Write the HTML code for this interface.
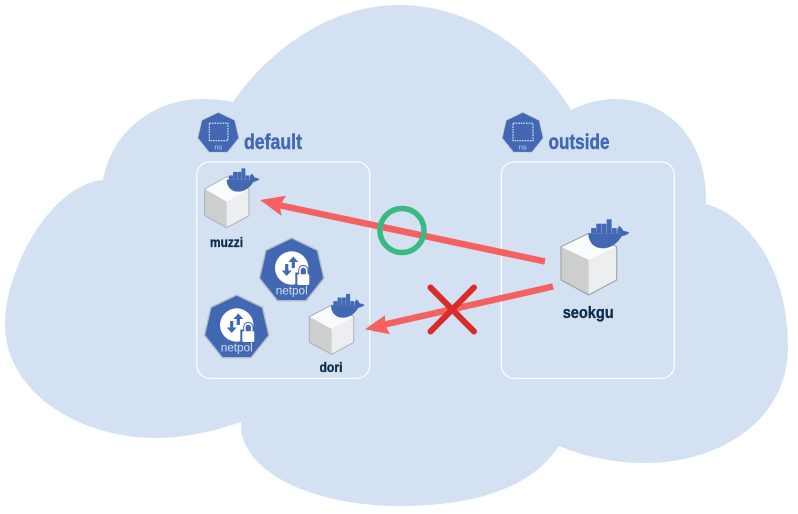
<!DOCTYPE html>
<html>
<head>
<meta charset="utf-8">
<style>
html,body{margin:0;padding:0;background:#fff}
svg{display:block}
.h{font-family:"Liberation Sans Narrow","Liberation Sans",sans-serif;font-weight:700;font-size:21px;fill:#4368b3;stroke:#4368b3;stroke-width:.45}
.l{font-family:"Liberation Sans Narrow","Liberation Sans",sans-serif;font-weight:700;fill:#0d2b4a;stroke:#0d2b4a;stroke-width:.35}
.np{font-family:"Liberation Sans",sans-serif;font-size:11.5px;fill:#d0dcf2;text-anchor:middle}
.ns{font-family:"Liberation Sans",sans-serif;font-size:7.5px;fill:#c8d6ee;text-anchor:middle}
</style>
</head>
<body>
<svg width="798" height="514" viewBox="0 0 798 514" xmlns="http://www.w3.org/2000/svg">
<defs>
  <g id="whale">
    <path fill="#4368b3" d="M0,0 L29,0 C28.5,-3 29.5,-6 31,-7.3 C33,-6 34.5,-4 35,-2.3 C37,-2.5 39,-1.8 41,-0.6 C39,1.5 36,2.5 33.5,2.8 C29,10 23,15 14,15 C5,15 0,8 0,0 Z"/>
    <g fill="#4368b3">
      <rect x="2.8" y="-5.2" width="5" height="5.2"/>
      <rect x="8" y="-5.2" width="4.9" height="5.2"/>
      <rect x="13.2" y="-5.2" width="4.9" height="5.2"/>
      <rect x="18.4" y="-5.2" width="4.9" height="5.2"/>
      <rect x="23.6" y="-5.2" width="4.8" height="5.2"/>
      <rect x="8" y="-9.6" width="4.9" height="4.6"/>
      <rect x="13.2" y="-9.6" width="4.9" height="4.6"/>
      <rect x="18.4" y="-9.6" width="4.9" height="4.6"/>
      <rect x="18.4" y="-14" width="4.9" height="4.6"/>
    </g>
  </g>
  <g id="netpol">
    <polygon points="0,-33 25.8,-20.6 32.2,7.3 14.3,29.7 -14.3,29.7 -32.2,7.3 -25.8,-20.6" fill="#4368b3" stroke="#b4bcc8" stroke-width="1.4" stroke-linejoin="round"/>
    <circle cx="0" cy="-3" r="16.7" fill="#fff"/>
    <path d="M1.6,-14.5 L6.6,-9 L3.2,-9 L3.2,-3 L0,-3 L0,-9 L-3.4,-9 Z" fill="#4368b3"/>
    <path d="M-5,5 L-10,-0.5 L-6.6,-0.5 L-6.6,-7 L-3.4,-7 L-3.4,-0.5 L0,-0.5 Z" fill="#4368b3"/>
    <path d="M3.6,16 V1.5 H6.5 V-1 a5.1,5.1 0 0 1 10.2,0 V1.5 H19.6 V16 Z" fill="#4368b3"/>
    <rect x="5.6" y="3.3" width="12" height="10.7" rx="1.2" fill="#fff"/>
    <path d="M8.2,3.5 V-0.8 a3.4,3.4 0 0 1 6.8,0 V3.5" fill="none" stroke="#fff" stroke-width="1.6"/>
    <text class="np" x="0" y="23.3" textLength="32" lengthAdjust="spacingAndGlyphs">netpol</text>
  </g>
</defs>

<path fill="#d4e1f2" d="M233,102 C260,62 320,5 400,5 C470,5 535,50 571,110 C585,103 600,99 615,99 C668,99 708,140 706,204 C745,214 788,265 788,347 C788,420 720,463 645,463 C615,463 585,457 559,446 C530,490 470,506 400,506 C310,506 238,470 241,422 C215,431 185,438 157,438 C75,438 5,390 5,324 C5,270 50,185 103,180 C112,130 155,99 203,99 C214,99 224,100 233,102 Z"/>

<rect x="196.8" y="161.8" width="173" height="216.5" rx="13" fill="none" stroke="#fff" stroke-width="1.2"/>
<rect x="501.3" y="161.8" width="173" height="216.5" rx="13" fill="none" stroke="#fff" stroke-width="1.2"/>

<!-- ns icons -->
<g transform="translate(218.3,133.4)">
  <polygon points="0,-21.2 16.6,-13.2 20.7,4.7 9.2,19 -9.2,19 -20.7,4.7 -16.6,-13.2" fill="#4368b3" stroke="#c8cfdb" stroke-width="1" stroke-linejoin="round"/>
  <rect x="-9" y="-10.2" width="18.6" height="17.5" fill="none" stroke="#e4ecf8" stroke-width="1.1" stroke-dasharray="1.6 1"/>
  <text class="ns" x="0" y="16">ns</text>
</g>
<g transform="translate(522.7,133.4)">
  <polygon points="0,-21.2 16.6,-13.2 20.7,4.7 9.2,19 -9.2,19 -20.7,4.7 -16.6,-13.2" fill="#4368b3" stroke="#c8cfdb" stroke-width="1" stroke-linejoin="round"/>
  <rect x="-9.7" y="-10.2" width="20" height="17.5" fill="none" stroke="#e4ecf8" stroke-width="1.1" stroke-dasharray="1.6 1"/>
  <text class="ns" x="0" y="16">ns</text>
</g>
<text class="h" x="244" y="149" textLength="58" lengthAdjust="spacingAndGlyphs">default</text>
<text class="h" x="548.5" y="149" textLength="61" lengthAdjust="spacingAndGlyphs">outside</text>

<!-- muzzi -->
<polygon points="226.7,176.7 249,189 226.7,201.7 204.7,189" fill="#fafbfe"/>
<polygon points="204.7,189 226.7,201.7 226.7,227.7 204.7,215.7" fill="#cdcfce"/>
<polygon points="249,189 226.7,201.7 226.7,227.7 249,215.7" fill="#edeef0"/>
<polygon points="226.7,176.7 249,189 249,215.7 226.7,227.7 204.7,215.7 204.7,189" fill="none" stroke="#aeb0b4" stroke-width="1"/>
<use href="#whale" transform="translate(226.7,179.6) scale(.8)"/>
<text class="l" x="210" y="247" font-size="14" textLength="33" lengthAdjust="spacingAndGlyphs">muzzi</text>

<!-- dori -->
<polygon points="331.7,305 353.7,316.7 331.7,329 309.3,316.7" fill="#fafbfe"/>
<polygon points="309.3,316.7 331.7,329 331.7,354.3 309.3,342.3" fill="#cdcfce"/>
<polygon points="353.7,316.7 331.7,329 331.7,354.3 353.7,342.3" fill="#edeef0"/>
<polygon points="331.7,305 353.7,316.7 353.7,342.3 331.7,354.3 309.3,342.3 309.3,316.7" fill="none" stroke="#aeb0b4" stroke-width="1"/>
<use href="#whale" transform="translate(331,305.4) scale(.82)"/>
<text class="l" x="319.5" y="372" font-size="14" textLength="23" lengthAdjust="spacingAndGlyphs">dori</text>

<!-- seokgu -->
<polygon points="588.7,233.3 616.7,246.7 588.7,260 561,246.7" fill="#fafbfe"/>
<polygon points="561,246.7 588.7,260 588.7,295 561,280" fill="#cdcfce"/>
<polygon points="616.7,246.7 588.7,260 588.7,295 616.7,280" fill="#edeef0"/>
<polygon points="588.7,233.3 616.7,246.7 616.7,280 588.7,295 561,280 561,246.7" fill="none" stroke="#9a9c9f" stroke-width="1"/>
<use href="#whale" transform="translate(588.3,233.3)"/>
<text class="l" x="562.7" y="318" font-size="17" textLength="51" lengthAdjust="spacingAndGlyphs">seokgu</text>

<!-- netpol -->
<use href="#netpol" transform="translate(291.7,271)"/>
<use href="#netpol" transform="translate(236.7,328)"/>

<!-- arrows -->
<line x1="545" y1="261.5" x2="276" y2="204.5" stroke="#f56060" stroke-width="6.5"/>
<polygon points="260,200 286,195.7 279.5,206 281.7,216" fill="#f56060"/>
<line x1="553" y1="286.5" x2="378" y2="326" stroke="#f56060" stroke-width="6.5"/>
<polygon points="365,329.3 385,315.3 385,325 390,334.3" fill="#f56060"/>

<circle cx="402" cy="230.5" r="22" fill="none" stroke="#3ab982" stroke-width="5.5"/>
<path d="M430.5,287.5 L474,331.5 M474,287.5 L430.5,331.5" stroke="#d92b27" stroke-width="6" stroke-linecap="round" fill="none"/>
</svg>
</body>
</html>
